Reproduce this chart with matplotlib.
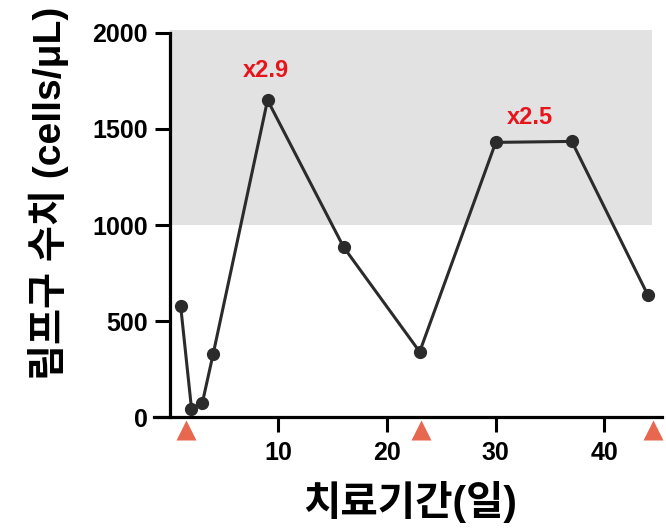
import matplotlib
matplotlib.use("Agg")
import matplotlib.pyplot as plt

# Lymphocyte counts over the treatment period
days = [1, 2, 3, 4, 9, 16, 23, 30, 37, 44]
counts = [580, 45, 75, 330, 1650, 885, 340, 1430, 1435, 635]

# Treatment administration days (triangles below the axis)
treatment_days = [1.5, 23.1, 44.5]

# Fold-change labels
fold_labels = ["x2.9", "x2.5"]

# Normal reference range
normal_low, normal_high = 1000, 2015

y_ticks = [0, 500, 1000, 1500, 2000]
x_ticks = [10, 20, 30, 40]

W, H = 666, 530
fig = plt.figure(figsize=(W / 100, H / 100), dpi=100)

left_px, right_px = 154, 662
top_px, bottom_px = 29, 421
ax = fig.add_axes([left_px / W, 1 - bottom_px / H,
                   (right_px - left_px) / W, (bottom_px - top_px) / H])

ax.set_xlim(-1.45, 45.3)
ax.set_ylim(-20, 2020)

line_col = "#2b2b2b"
ax.axhspan(normal_low, normal_high, xmin=(0 + 1.45) / 46.75,
           xmax=(44.4 + 1.45) / 46.75, color="#e2e2e2", lw=0, zorder=0)

ax.plot(days, counts, color=line_col, lw=2.2, marker="o", ms=8.5,
        mfc=line_col, mec=line_col, zorder=3, clip_on=False)

ax.plot(treatment_days, [-68] * len(treatment_days), ls="none", marker="^",
        ms=14.5, color="#e8674f", mec="none", clip_on=False, zorder=4)

# Fold-change annotations
red = "#e8141b"
ax.annotate(fold_labels[0], xy=(days[4], counts[4]), xytext=(-1.2, 21.5),
            textcoords="offset points", ha="center", va="center",
            color=red, fontsize=17, fontweight="bold",
            family="Liberation Sans")
mid_x = (days[7] + days[8]) / 2
mid_y = (counts[7] + counts[8]) / 2
ax.annotate(fold_labels[1], xy=(mid_x, mid_y), xytext=(-2.8, 17.5),
            textcoords="offset points", ha="center", va="center",
            color=red, fontsize=17, fontweight="bold",
            family="Liberation Sans")

# Axes styling
for s in ["top", "right"]:
    ax.spines[s].set_visible(False)
ax.spines["left"].set_position(("data", 0))
ax.spines["left"].set_bounds(0, 2000)
ax.spines["bottom"].set_position(("data", 0))
for s in ["left", "bottom"]:
    ax.spines[s].set_linewidth(2.3)
    ax.spines[s].set_color("black")
    ax.spines[s].set_capstyle("projecting")

ax.set_yticks(y_ticks)
ax.set_xticks(x_ticks)
ax.tick_params(axis="both", direction="out", length=11, width=2.2,
               color="black", labelsize=18)
ax.tick_params(axis="y", pad=5)
ax.tick_params(axis="x", pad=6)
for lab in ax.get_xticklabels() + ax.get_yticklabels():
    lab.set_fontweight("bold")
    lab.set_family("Liberation Sans")

label_family = ["Liberation Sans", "Noto Sans CJK KR"]
fig.text(49 / W, 1 - 193 / H, "림프구 수치 (cells/μL)", rotation=90,
         ha="center", va="center", fontsize=28.2, fontweight="bold",
         family=label_family)
fig.text(410 / W, 1 - 502 / H, "치료기간(일)", ha="center", va="center",
         fontsize=29.3, fontweight="bold", family=label_family)

fig.savefig("out.png", dpi=100)
